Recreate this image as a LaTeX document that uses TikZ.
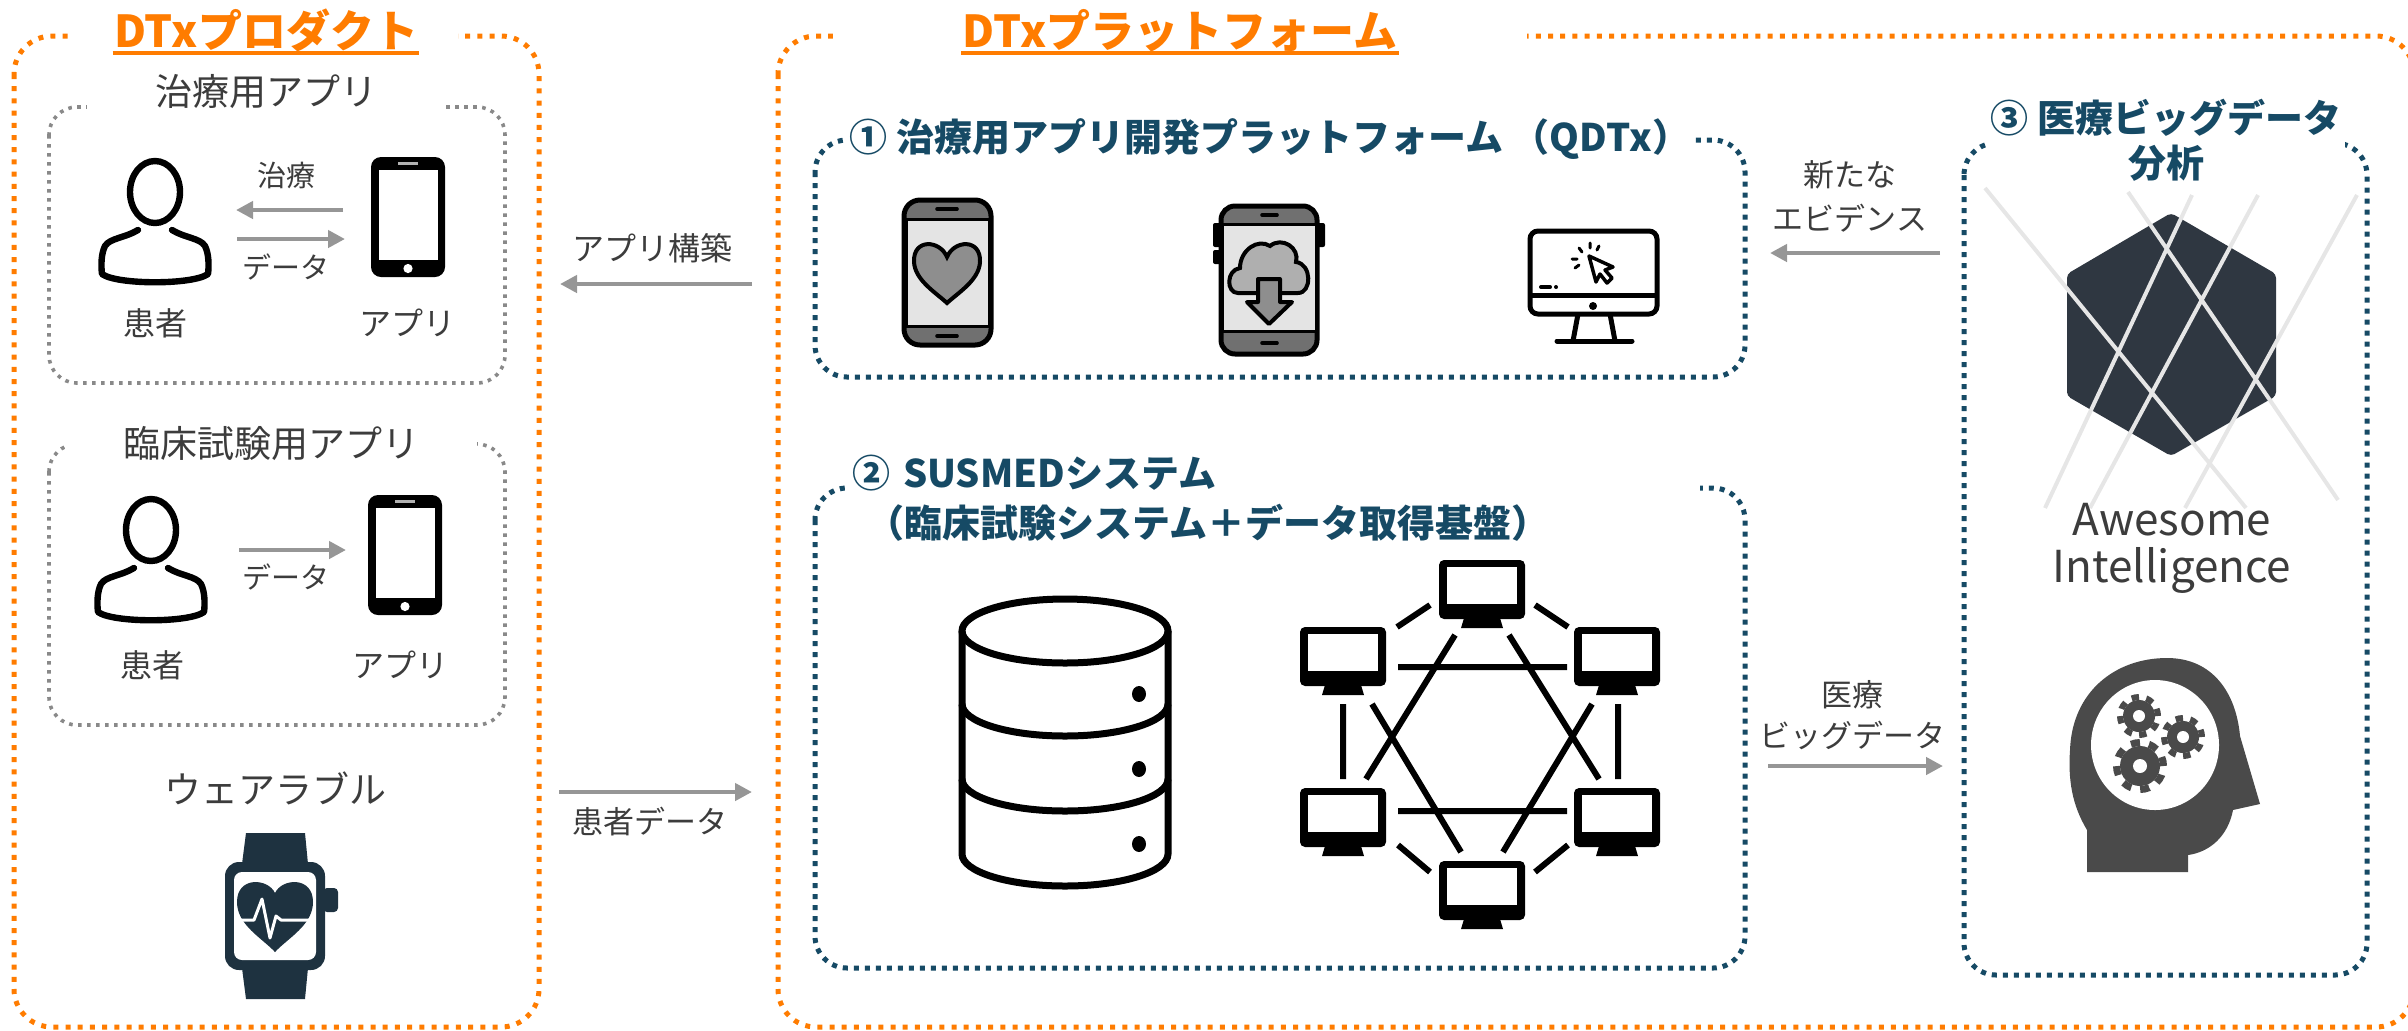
\documentclass[tikz,border=0pt]{standalone}
\usepackage{fontspec}
\setmainfont{Noto Sans CJK JP}
\usetikzlibrary{arrows.meta}

\definecolor{dtxorange}{RGB}{255,124,0}
\definecolor{dtxblue}{RGB}{22,74,101}
\definecolor{framegray}{RGB}{137,137,137}
\definecolor{flowgray}{RGB}{150,150,150}
\definecolor{inkgray}{RGB}{60,60,60}
\definecolor{watchnavy}{RGB}{30,50,64}
\definecolor{hexslate}{RGB}{47,55,65}
\definecolor{headgray}{RGB}{74,74,74}
\definecolor{bandgray}{RGB}{112,112,112}
\definecolor{screengray}{RGB}{228,228,228}
\definecolor{fillgray}{RGB}{142,142,142}
\definecolor{cloudgray}{RGB}{175,175,175}
\definecolor{latticegray}{RGB}{230,230,230}

\tikzset{
  person/.pic={
    \draw[line width=3.2pt] (0,0) ellipse [x radius=25, y radius=31];
    \draw[line width=3.2pt, line join=round, line cap=round] (-17,38) .. controls (-30,46) and (-45,46) .. (-50,54)
      .. controls (-54,62) and (-54,74) .. (-53,82) .. controls (-38,93) and (38,93) .. (53,82)
      .. controls (54,74) and (54,62) .. (50,54) .. controls (45,46) and (30,46) .. (17,38);
  },
  handset/.pic={
    \fill[rounded corners=5pt] (0,0) rectangle (74,120);
    \fill[white] (8,13) rectangle (67,103);
    \fill[white!70!black] (27,4.5) rectangle (47,7.5);
    \fill[white] (37,111.5) circle (2.3pt);
  },
  netpc/.pic={
    \fill[rounded corners=2.5pt] (-43,0) rectangle (43,59);
    \fill[white] (-35,7) rectangle (35,44);
    \fill (-18,58) -- (18,58) -- (21,68) -- (-21,68) -- cycle;
  }
}

\begin{document}
\begin{tikzpicture}[x=0.5pt, y=-0.5pt,
  orangeframe/.style={draw=dtxorange, line width=2.5pt, dash pattern=on 2.5pt off 3.6pt, rounded corners=19pt},
  blueframe/.style={draw=dtxblue, line width=2.5pt, dash pattern=on 2.5pt off 3pt, rounded corners=16pt},
  grayframe/.style={draw=framegray, line width=1.8pt, dash pattern=on 1.8pt off 2.7pt, rounded corners=14pt},
  bigtitle/.style={fill=white, text=dtxorange, font=\bfseries\fontsize{22pt}{26pt}\selectfont, inner ysep=3pt},
  secttitle/.style={fill=white, text=dtxblue, font=\bfseries\fontsize{19pt}{25pt}\selectfont, inner sep=2pt},
  subtitle/.style={fill=white, text=inkgray, font=\fontsize{18.5pt}{22pt}\selectfont, inner ysep=4pt},
  lbl/.style={text=inkgray, font=\fontsize{15.5pt}{19pt}\selectfont, inner sep=1pt},
  smalllbl/.style={lbl, font=\fontsize{14.5pt}{17pt}\selectfont},
  flow/.style={draw=flowgray, line width=2.4pt, -{Triangle[length=8.5pt, width=8.5pt]}}
]
\useasboundingbox (0,0) rectangle (2408,1030);

% frames
\draw[orangeframe] (14,36) rectangle (539,1027);
\draw[orangeframe] (778,36) rectangle (2414,1027);
\draw[grayframe] (49,107) rectangle (505,383);
\draw[grayframe] (49,444) rectangle (505,725);
\draw[blueframe] (815,140) rectangle (1745,377);
\draw[blueframe] (815,488) rectangle (1745,968);
\draw[blueframe] (1964,143) rectangle (2367,975);

% headings
\node[bigtitle, inner xsep=20pt, anchor=base] (prodttl) at (266,47) {DTxプロダクト};
\node[bigtitle, inner xsep=65pt, anchor=base] (platttl) at (1180,47) {DTxプラットフォーム};
\draw[dtxorange, line width=1.6pt] ([xshift=19.5pt, yshift=-3pt]prodttl.base west) -- ([xshift=-19.5pt, yshift=-3pt]prodttl.base east);
\draw[dtxorange, line width=1.6pt] ([xshift=64.5pt, yshift=-3pt]platttl.base west) -- ([xshift=-64.5pt, yshift=-3pt]platttl.base east);
\node[subtitle, inner xsep=34pt] (thrttl) at (266,92) {治療用アプリ};
\node[subtitle, inner xsep=29pt] (trlttl) at (271,444) {臨床試験用アプリ};
\node[secttitle] (qdtxttl) at (1270,139) {① 治療用アプリ開発プラットフォーム （QDTx）};
\node[secttitle, align=left, text width=422pt, anchor=north west] (susttl) at (848,451) {② SUSMEDシステム\\\hspace*{7pt}（臨床試験システム＋データ取得基盤）};
\node[secttitle, align=center, font=\bfseries\fontsize{19pt}{22.5pt}\selectfont] (bigttl) at (2166,140) {③ 医療ビッグデータ\\分析};

% therapy app
\pic at (155,192) {person};
\pic at (371,157) {handset};
\coordinate (trtA) at (343,210);
\coordinate (trtB) at (236,210);
\coordinate (datA) at (237,239);
\coordinate (datB) at (345,239);
\draw[flow] (trtA) -- (trtB);
\draw[flow] (datA) -- (datB);
\node[smalllbl] (trtlbl) at (286,175) {治療};
\node[smalllbl] (dat1lbl) at (286,267) {データ};
\node[lbl, font=\fontsize{16pt}{19pt}\selectfont] (pat1lbl) at (155,323) {患者};
\node[lbl, font=\fontsize{16pt}{19pt}\selectfont] (app1lbl) at (407,323) {アプリ};

% trial app
\pic at (151,530) {person};
\pic at (368,495) {handset};
\coordinate (trlA) at (239,550);
\coordinate (trlB) at (346,550);
\draw[flow] (trlA) -- (trlB);
\node[smalllbl] (dat2lbl) at (286,577) {データ};
\node[lbl, font=\fontsize{16pt}{19pt}\selectfont] (pat2lbl) at (152,665) {患者};
\node[lbl, font=\fontsize{16pt}{19pt}\selectfont] (app2lbl) at (400,665) {アプリ};

% wearable
\node[lbl, font=\fontsize{18.5pt}{22pt}\selectfont] (wearlbl) at (275,788) {ウェアラブル};
\fill[watchnavy] (246,833) -- (305,833) -- (308,864) -- (242,864) -- cycle;
\fill[watchnavy] (242,968) -- (308,968) -- (305,999) -- (246,999) -- cycle;
\fill[watchnavy, rounded corners=7pt] (225,862) rectangle (325,970);
\fill[white, rounded corners=4pt] (234,872) rectangle (316,960);
\fill[watchnavy, rounded corners=2pt] (323,888) rectangle (338,912);
\fill[watchnavy] (275,893) .. controls (268,878) and (237,876) .. (237,902) .. controls (237,925) and (262,938) .. (275,952)
  .. controls (288,938) and (313,925) .. (313,902) .. controls (313,876) and (282,878) .. (275,893) -- cycle;
\draw[white, line width=1.5pt, line join=round] (237,920) -- (254,920) -- (262,899) -- (270,938) -- (276,916) -- (281,920) -- (313,920);

% between product and platform
\coordinate (bldA) at (752,284);
\coordinate (bldB) at (560,284);
\coordinate (patA) at (559,792);
\coordinate (patB) at (752,792);
\draw[flow] (bldA) -- (bldB);
\draw[flow] (patA) -- (patB);
\node[lbl, font=\fontsize{16pt}{19pt}\selectfont] (bldlbl) at (652,248) {アプリ構築};
\node[lbl] (patlbl) at (650,822) {患者データ};

% QDTx icons: heart phone
\draw[line width=2.5pt, fill=bandgray, rounded corners=8pt] (904,200) rectangle (991,345);
\draw[line width=1.5pt, fill=screengray] (906,219) rectangle (989,326);
\draw[line width=1.8pt, line cap=round] (937,209) -- (957,209) (937,336) -- (957,336);
\draw[line width=2pt, fill=fillgray] (947,257) .. controls (940,240) and (913,238) .. (914,262) .. controls (915,280) and (935,292) .. (947,303)
  .. controls (959,292) and (979,280) .. (980,262) .. controls (981,238) and (954,240) .. (947,257) -- cycle;

% cloud phone
\fill[rounded corners=1pt] (1213,223) rectangle (1223,247) (1213,250) rectangle (1223,264) (1315,223) rectangle (1325,247);
\draw[line width=2.5pt, fill=bandgray, rounded corners=7pt] (1221,206) rectangle (1317,354);
\draw[line width=1.5pt, fill=screengray] (1222,224) rectangle (1316,331);
\draw[line width=1.8pt, line cap=round] (1262,215) -- (1277,215) (1262,343) -- (1277,343);
\draw[line width=2pt, fill=cloudgray] (1238,293) .. controls (1226,293) and (1226,270) .. (1240,268) .. controls (1240,250) and (1258,238) .. (1270,246)
  .. controls (1282,236) and (1300,248) .. (1296,262) .. controls (1312,264) and (1312,293) .. (1298,293) -- cycle;
\draw[line width=2pt, fill=fillgray, line join=round] (1258,279) -- (1280,279) -- (1280,302) -- (1292,302) -- (1269,324) -- (1247,302) -- (1258,302) -- cycle;

% desktop
\draw[line width=2.5pt, rounded corners=4pt] (1530,231) rectangle (1657,314);
\draw[line width=2.5pt] (1530,295) -- (1657,295);
\fill (1593,306) circle (2pt);
\draw[line width=2.5pt] (1578,314) -- (1573,341) (1610,314) -- (1615,341);
\draw[line width=2.5pt, line cap=round] (1557,341) -- (1632,341);
\draw[line width=1.75pt, line join=round] (1589,256) -- (1596,282) -- (1600,274) -- (1607,283) -- (1612,278) -- (1605,270) -- (1613,267) -- cycle;
\draw[line width=1.5pt, line cap=round] (1579,248) -- (1582,252) (1590,243) -- (1590,248) (1572,259) -- (1577,259) (1575,268) -- (1579,265) (1599,246) -- (1597,250);
\draw[line width=2pt, line cap=round] (1541,287) -- (1550,287);
\fill (1556,287) circle (1pt);

% database
\draw[line width=3.5pt] (962,631) -- (962,854) arc[start angle=180, end angle=0, x radius=103, y radius=32] -- (1168,631);
\draw[line width=3.5pt] (962,704) arc[start angle=180, end angle=0, x radius=103, y radius=32];
\draw[line width=3.5pt] (962,779) arc[start angle=180, end angle=0, x radius=103, y radius=32];
\draw[line width=3.5pt] (1065,631) ellipse [x radius=103, y radius=32];
\fill (1139,694) ellipse [x radius=7, y radius=8];
\fill (1139,769) ellipse [x radius=7, y radius=8];
\fill (1139,844) ellipse [x radius=7, y radius=8];

% network
\pic at (1482,560) {netpc};
\pic at (1343,627) {netpc};
\pic at (1617,627) {netpc};
\pic at (1343,788) {netpc};
\pic at (1617,788) {netpc};
\pic at (1482,861) {netpc};
\draw[line width=3pt] (1397,627) -- (1430,605) (1535,605) -- (1568,627)
  (1398,667) -- (1567,667) (1343,704) -- (1343,779) (1618,704) -- (1618,779) (1398,811) -- (1567,811)
  (1398,845) -- (1430,872) (1535,872) -- (1568,845)
  (1455,635) -- (1366,779) (1509,635) -- (1599,779) (1372,704) -- (1461,852) (1592,704) -- (1503,852);

% between platform parts
\coordinate (evdA) at (1940,253);
\coordinate (evdB) at (1770,253);
\coordinate (bigA) at (1768,766);
\coordinate (bigB) at (1943,766);
\draw[flow] (evdA) -- (evdB);
\draw[flow] (bigA) -- (bigB);
\node[lbl] (evd1lbl) at (1850,175) {新たな};
\node[lbl] (evd2lbl) at (1850,218) {エビデンス};
\node[lbl] (big1lbl) at (1852,695) {医療};
\node[lbl] (big2lbl) at (1852,735) {ビッグデータ};

% analysis logo
\fill[hexslate, rounded corners=2pt] (2171,213) -- (2276,274) -- (2276,396) -- (2171,456) -- (2067,396) -- (2067,274) -- cycle;
\draw[latticegray, line width=2pt] (1985,188) -- (2246,508) (2128,192) -- (2338,500) (2192,195) -- (2045,508)
  (2258,195) -- (2090,508) (2357,195) -- (2185,508);
\node[text=inkgray, font=\fontsize{22pt}{26pt}\selectfont, anchor=base] (awelbl) at (2172,535) {Awesome};
\node[text=inkgray, font=\fontsize{22pt}{26pt}\selectfont, anchor=base] (intlbl) at (2172,582) {Intelligence};

% head with gears
\fill[headgray] (2087,872) -- (2087,830) .. controls (2072,805) and (2068,780) .. (2070,750) .. controls (2072,692) and (2115,658) .. (2167,658)
  .. controls (2212,658) and (2236,692) .. (2240,736) -- (2260,804) -- (2233,810) .. controls (2228,836) and (2210,852) .. (2188,855) -- (2188,872) -- cycle;
\fill[white] (2155,745) ellipse [x radius=64, y radius=65];
\fill[headgray] (2139,716) circle (8pt);
\draw[headgray, line width=3pt, dash pattern=on 3.73pt off 3.73pt] (2139,716) circle (9.5pt);
\fill[white] (2139,716) circle (3pt);
\fill[headgray] (2183,737) circle (8pt);
\draw[headgray, line width=3pt, dash pattern=on 3.73pt off 3.73pt] (2183,737) circle (9.5pt);
\fill[white] (2183,737) circle (3pt);
\fill[headgray] (2140,766) circle (10pt);
\draw[headgray, line width=3.5pt, dash pattern=on 4.6pt off 4.63pt] (2140,766) circle (11.75pt);
\fill[white] (2140,766) circle (3.5pt);
\end{tikzpicture}
\end{document}
